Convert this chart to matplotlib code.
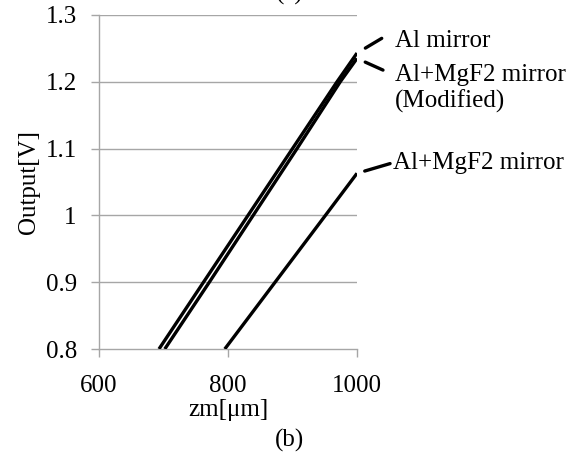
import matplotlib
matplotlib.use("Agg")
import matplotlib.pyplot as plt

plt.rcParams["font.family"] = ["Liberation Serif", "DejaVu Serif"]

# values
al_zm = [693, 762, 831, 900, 969, 1000]
al_out = [0.8, 0.9, 1.0, 1.1, 1.2, 1.243]

mod_zm = [702, 771, 839, 907, 974, 1000]
mod_out = [0.8, 0.9, 1.0, 1.1, 1.2, 1.235]

mgf2_zm = [795, 873, 951, 1000]
mgf2_out = [0.8, 0.9, 1.0, 1.063]

y_ticks = [0.8, 0.9, 1.0, 1.1, 1.2, 1.3]
y_tick_labels = ["0.8", "0.9", "1", "1.1", "1.2", "1.3"]
x_ticks = [600, 800, 1000]
x_tick_labels = ["600", "800", "1000"]

FS = 18
GRID = "#a6a6a6"

fig = plt.figure(figsize=(5.76, 4.57), dpi=100)
ax = fig.add_axes([0.1719, 0.2363, 0.4479, 0.7309])

for y in y_ticks[1:]:
    ax.axhline(y, color=GRID, lw=1.0, zorder=1)

for xs, ys in [(al_zm, al_out), (mod_zm, mod_out), (mgf2_zm, mgf2_out)]:
    ax.plot(xs, ys, color="black", lw=2.4, solid_capstyle="butt", zorder=3)

ax.set_xlim(600, 1000)
ax.set_ylim(0.8, 1.3)
ax.set_xticks(x_ticks)
ax.set_xticklabels(x_tick_labels)
ax.set_yticks(y_ticks)
ax.set_yticklabels(y_tick_labels)
ax.tick_params(axis="both", direction="out", length=6, width=1.0, color=GRID,
               labelsize=FS, pad=10)
ax.tick_params(axis="x", pad=13)

for side in ["top", "right"]:
    ax.spines[side].set_visible(False)
for side in ["left", "bottom"]:
    ax.spines[side].set_color(GRID)
    ax.spines[side].set_linewidth(1.0)

ax.set_xlabel("zm[μm]", fontsize=FS, labelpad=1)
ax.set_ylabel("Output[V]", fontsize=FS, labelpad=4)

# labels with short leader dashes, Excel style
labels = [
    ("Al mirror", al_zm[-1], al_out[-1], (27.4, 8.4), (17.8, 10.6), 7),
    ("Al+MgF2 mirror\n(Modified)", mod_zm[-1], mod_out[-1], (27.4, -21.6), (18.7, -8.4), 6.5),
    ("Al+MgF2 mirror", mgf2_zm[-1], mgf2_out[-1], (25.9, 7.4), (23.8, 7.0), 5.8),
]
for text, x, y, toff, doff, gap in labels:
    ax.annotate(text, xy=(x, y), xytext=toff, textcoords="offset points",
                ha="left", va="center", fontsize=FS, linespacing=1.2,
                annotation_clip=False)
    ax.annotate("", xy=(x, y), xytext=doff, textcoords="offset points",
                annotation_clip=False,
                arrowprops=dict(arrowstyle="-", color="black", lw=2.4,
                                shrinkA=0, shrinkB=gap))

fig.text(0.503, 1.015, "(a)", ha="center", va="center", fontsize=FS)
fig.text(0.503, 0.037, "(b)", ha="center", va="center", fontsize=FS)

fig.savefig("out.png", dpi=100)
